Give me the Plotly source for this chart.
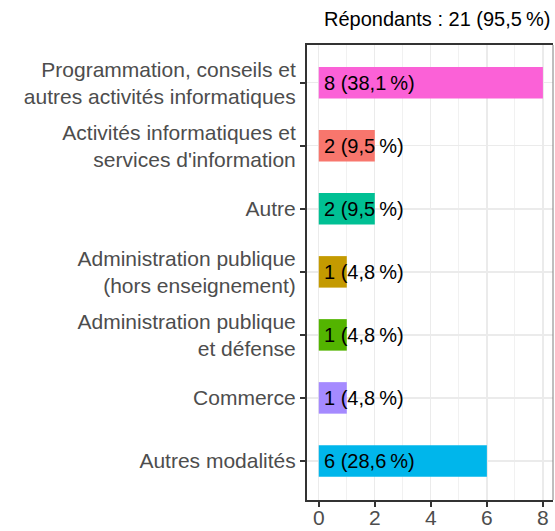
import plotly.graph_objects as go

categories = [
    "Programmation, conseils et<br>autres activités informatiques",
    "Activités informatiques et<br>services d'information",
    "Autre",
    "Administration publique<br>(hors enseignement)",
    "Administration publique<br>et défense",
    "Commerce",
    "Autres modalités",
]
counts = [8, 2, 2, 1, 1, 1, 6]
percents = ["38,1", "9,5", "9,5", "4,8", "4,8", "4,8", "28,6"]
colors = ["#FB61D7", "#F8766D", "#00C094", "#C49A00", "#53B400", "#A58AFF", "#00B6EB"]
title_text = "Répondants : 21 (95,5\u202f%)"
x_ticks = [0, 2, 4, 6, 8]

ypos = list(range(len(categories)))
FONT = "Liberation Sans, Arial"

fig = go.Figure()
fig.add_trace(go.Bar(
    x=counts, y=ypos, orientation="h",
    marker=dict(color=colors, line=dict(width=0)),
    width=0.5, showlegend=False, hoverinfo="skip",
))

for i, (c, p) in enumerate(zip(counts, percents)):
    fig.add_annotation(
        x=0, y=i, xref="x", yref="y", text=f"{c} ({p}\u202f%)",
        showarrow=False, xanchor="left", yanchor="middle", xshift=3,
        font=dict(family=FONT, size=20, color="#000000"),
    )

fig.add_annotation(
    x=1, y=1, xref="paper", yref="paper", xanchor="right", yanchor="bottom",
    yshift=13, xshift=-1, showarrow=False, text=title_text,
    font=dict(family=FONT, size=20, color="#000000"),
)

# right border (lighter)
fig.add_shape(type="line", xref="paper", yref="paper", x0=1, x1=1, y0=0, y1=1,
              line=dict(color="#7F7F7F", width=1))

fig.update_layout(
    width=555, height=531,
    margin=dict(l=307, r=2, t=45, b=31, autoexpand=False),
    plot_bgcolor="white", paper_bgcolor="white",
    font=dict(family=FONT),
    bargap=0.5,
)
fig.update_xaxes(
    automargin=False,
    range=[-0.42, 8.36], tickvals=x_ticks, ticktext=[str(v) for v in x_ticks],
    showgrid=True, gridcolor="#EBEBEB", gridwidth=1.3,
    minor=dict(tickvals=[1, 3, 5, 7], showgrid=True, gridcolor="#EBEBEB", gridwidth=0.7),
    zeroline=False, showline=True, linecolor="#333333", linewidth=2, mirror=True,
    ticks="outside", ticklen=5, tickwidth=2, tickcolor="#333333",
    ticklabelstandoff=-7,
    tickfont=dict(size=21, color="#4D4D4D"),
)
fig.update_yaxes(
    automargin=False,
    range=[6.62, -0.6], tickvals=ypos, ticktext=categories,
    showgrid=True, gridcolor="#EBEBEB", gridwidth=1.3,
    zeroline=False, showline=True, linecolor="#333333", linewidth=2,
    ticks="outside", ticklen=5, tickwidth=2, tickcolor="#333333",
    tickfont=dict(size=21, color="#4D4D4D"),
)

fig.write_html(
    "out.html",
    config={"displayModeBar": False, "staticPlot": True},
    post_script="document.body.style.margin='0';document.body.style.overflow='hidden';",
)
